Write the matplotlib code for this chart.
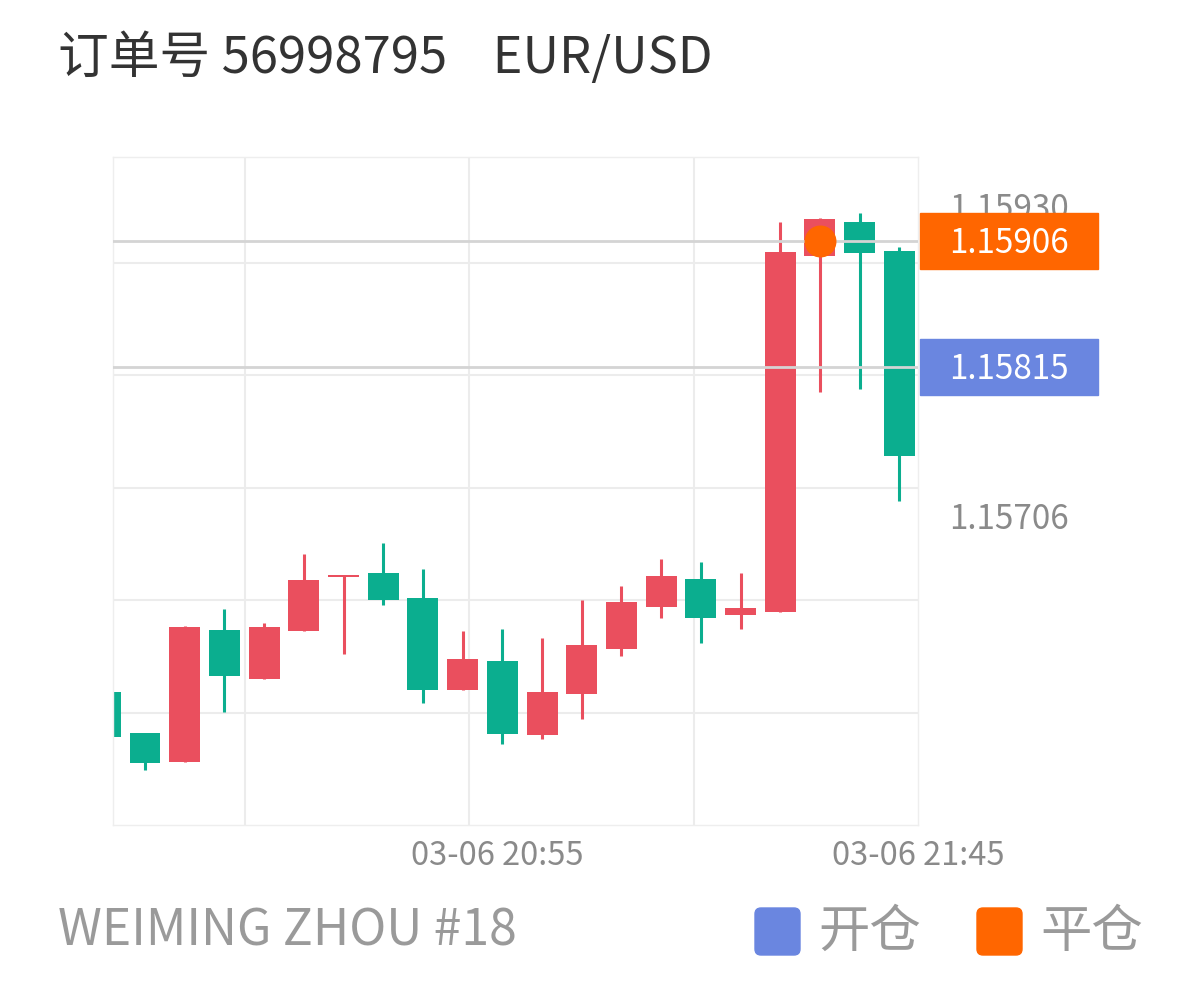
import matplotlib.pyplot as plt
import matplotlib.transforms as mtransforms
from matplotlib.patches import Rectangle, FancyBboxPatch
import numpy as np

plt.rcParams['font.family'] = ['Noto Sans CJK SC', 'DejaVu Sans']

# K线数据 (5分钟)
opens = [1.15580, 1.15551, 1.15530, 1.15625, 1.15590, 1.15624, 1.15663, 1.15666, 1.15648, 1.15582, 1.15603,
         1.15549, 1.15579, 1.15611, 1.15642, 1.15662, 1.15636, 1.15638, 1.15895, 1.15920, 1.15899]
highs = [1.15582, 1.15551, 1.15628, 1.15640, 1.15630, 1.15680, 1.15665, 1.15688, 1.15669, 1.15624, 1.15626,
         1.15619, 1.15647, 1.15657, 1.15676, 1.15674, 1.15666, 1.15920, 1.15923, 1.15926, 1.15902]
lows = [1.15547, 1.15524, 1.15530, 1.15566, 1.15590, 1.15624, 1.15608, 1.15643, 1.15572, 1.15582, 1.15543,
        1.15546, 1.15561, 1.15606, 1.15634, 1.15616, 1.15626, 1.15638, 1.15797, 1.15799, 1.15718]
closes = [1.15548, 1.15529, 1.15627, 1.15592, 1.15627, 1.15661, 1.15665, 1.15647, 1.15582, 1.15604, 1.15550,
          1.15580, 1.15614, 1.15645, 1.15664, 1.15634, 1.15641, 1.15898, 1.15922, 1.15897, 1.15751]

open_price = 1.15815     # 开仓
close_price = 1.15906    # 平仓
close_idx = 18
axis_prices = [1.15930, 1.15706]
time_labels = ['03-06 20:55', '03-06 21:45']
time_pos = [9.87, 20.47]

RED = '#EA4F5E'
GREEN = '#0BAE8F'
BLUE = '#6A86E0'
ORANGE = '#FF6600'

fig = plt.figure(figsize=(11.98, 9.90), dpi=100)
ax = fig.add_axes([113/1198, 1-825/990, 805/1198, 668/990])

ymin, ymax = 1.154842, 1.159667
xmin, xmax = 0.194, 20.47
ax.set_xlim(xmin, xmax)
ax.set_ylim(ymin, ymax)
px = (ymax - ymin) / 668.0

# 网格
for k in range(1, 6):
    ax.axhline(ymin + k * 112.5 * px, color='#ececec', lw=1.5, zorder=0)
for k in range(1, 4):
    ax.axvline(xmax - k * (xmax - xmin) * 224.3 / 805, color='#ececec', lw=1.5, zorder=0)
for s in ax.spines.values():
    s.set_color('#eeeeee')
    s.set_linewidth(1)

# 蜡烛
for i in range(len(opens)):
    o, h, l, c = opens[i], highs[i], lows[i], closes[i]
    col = RED if c >= o else GREEN
    ax.vlines(i, l, h, color=col, lw=2.2, zorder=2)
    ax.bar(i, max(abs(c - o), px), bottom=min(o, c), width=0.78, color=col, zorder=2)

# 开仓/平仓线
ax.axhline(close_price, color='#d4d4d4', lw=2, zorder=3)
ax.axhline(open_price, color='#d4d4d4', lw=2, zorder=3)
ax.plot(close_idx, close_price, 'o', ms=22, color=ORANGE, mec=ORANGE, zorder=4)

trans = mtransforms.blended_transform_factory(ax.transAxes, ax.transData)
for p in axis_prices:
    ax.text(1.113, p - 2 * px, f'{p:.5f}', transform=trans, ha='center', va='center',
            fontsize=24, color='#8a8a8a', clip_on=False)
for p, col in [(close_price, ORANGE), (open_price, BLUE)]:
    ax.add_patch(Rectangle((1.0025, p - 28 * px), 0.221, 56 * px, transform=trans,
                           color=col, clip_on=False, zorder=5))
    ax.text(1.113, p - 2 * px, f'{p:.5f}', transform=trans, ha='center', va='center',
            fontsize=24, color='white', clip_on=False, zorder=6)

ax.set_yticks([])
ax.set_xticks(time_pos)
ax.set_xticklabels(time_labels)
ax.tick_params(axis='x', length=0, pad=11, labelsize=23.5, labelcolor='#8a8a8a')

# 标题和底部
fig.text(58/1198, 1-59/990, '订单号 56998795    EUR/USD', fontsize=36.5, color='#333333', va='center')
fig.text(58/1198, 1-932/990, 'WEIMING ZHOU #18', fontsize=36, color='#9a9a9a', va='center')
for x0, col, lab in [(755, BLUE, '开仓'), (977, ORANGE, '平仓')]:
    fig.patches.append(FancyBboxPatch((x0/100 + 0.04, 0.39), 0.37, 0.39,
                                      boxstyle='round,pad=0.04,rounding_size=0.06',
                                      transform=fig.dpi_scale_trans, color=col, figure=fig))
    fig.text((x0 + 63)/1198, 1-932/990, lab, fontsize=37, color='#9a9a9a', va='center')

fig.savefig('out.png', dpi=100)
